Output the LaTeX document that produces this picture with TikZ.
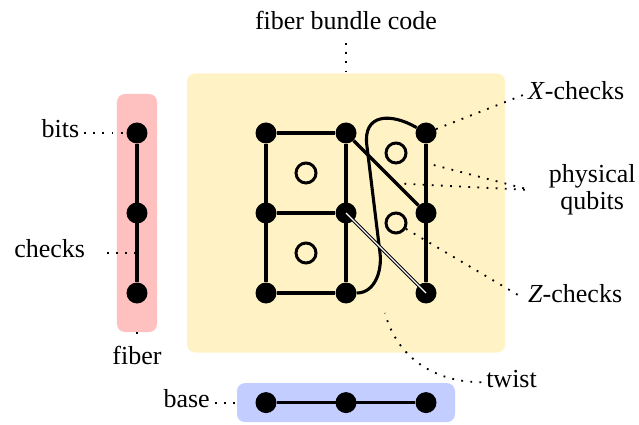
\documentclass[tikz,border=0pt]{standalone}
\usepackage{tikz}
\usepackage{fontspec}
\setmainfont{Liberation Serif}
\newfontfamily\lblserif{Liberation Serif}
\usetikzlibrary{arrows.meta}
\usetikzlibrary{calc}
\usetikzlibrary{positioning}

\definecolor{bundlebg}{RGB}{255,242,196}
\definecolor{fiberbg}{RGB}{255,192,192}
\definecolor{basebg}{RGB}{196,205,255}
\newcommand{\lblfont}{\lblserif\fontsize{18.5}{19}\selectfont}
\tikzset{
  bit/.style={circle,fill,inner sep=0pt,minimum size=0.525cm},
  facecheck/.style={circle,draw,line width=2.1pt,inner sep=0pt,minimum size=0.5cm},
  panel/.style={rectangle,rounded corners=0.2cm,inner sep=0pt},
  link/.style={line width=2.4pt},
  leader/.style={line width=1.3pt,dash pattern=on 1.3pt off 5.2pt},
  lbl/.style={font=\lblfont},
  onel/.style={lbl,text height=13pt,text depth=6pt},
}

\begin{document}
\begin{tikzpicture}[node distance=2cm]
      \useasboundingbox (-6.65,-3.275) rectangle (9.325,7.325);
      % backgrounds
      \node[panel,fill=bundlebg,minimum width=7.95cm,minimum height=6.975cm] (bundle) at (2,2) {};
      \node[panel,fill=fiberbg,minimum width=1cm,minimum height=5.95cm] (fiberbox) at (-3.225,2) {};
      \node[panel,fill=basebg,minimum width=5.45cm,minimum height=0.975cm] (basebox) at (2,-2.74) {};
      % total space
      \node[bit] (l1) at (0,4) {};
      \node[bit,right of=l1] (m1) {};
      \node[bit,right of=m1] (r1) {};
      \node[bit,below of=l1] (l2) {};
      \node[bit,right of=l2] (m2) {};
      \node[bit,right of=m2] (r2) {};
      \node[bit,below of=l2] (l3) {};
      \node[bit,right of=l3] (m3) {};
      \node[bit,right of=m3] (r3) {};
      \node[facecheck] (z1) at (1,3) {};
      \node[facecheck] (z2) at (1,1) {};
      \node[facecheck] (z3) at (3.25,3.5) {};
      \node[facecheck] (z4) at (3.25,1.75) {};
      \draw[link] (l1) -- (m1);
      \draw[link] (l2) -- (m2);
      \draw[link] (l3) -- (m3);
      \draw[link] (l1) -- (l3);
      \draw[link] (m1) -- (m3);
      \draw[link] (r1) -- (r3);
      \draw[link] (m1) -- (r2);
      \draw[line width=2.2pt] (m3) to[out=0,in=-83] (2.85,1.0) -- (2.52,3.7) to[out=97,in=150,looseness=1.5] (r1);
      \draw[line width=0.8pt,double=white,double distance=0.9pt] (m2.center) -- (r3.center);
      % fiber
      \node[bit] (f1) at (-3.225,4) {};
      \node[bit,below of=f1] (f2) {};
      \node[bit,below of=f2] (f3) {};
      \draw[link] (f1) -- (f3);
      % base
      \node[bit] (b1) at (0,-2.74) {};
      \node[bit,right of=b1] (b2) {};
      \node[bit,right of=b2] (b3) {};
      \draw[link] (b1) -- (b3);
      % labels
      \node[onel,above=0.75cm of bundle] (codelbl) {fiber bundle code};
      \node[onel,below=0.22cm of fiberbox] (fiberlbl) {fiber};
      \node[onel,left=1.05cm of f1] (bitslbl) {bits};
      \coordinate (fe) at ($(f2)!0.5!(f3)$);
      \node[onel,left=1.175cm of fe] (checkslbl) {checks};
      \node[onel,left=0.55cm of basebox] (baselbl) {base};
      \node[onel,right=0.65cm of basebox,yshift=0.51cm] (twistlbl) {twist};
      \coordinate (tw) at (2.975,-0.5);
      \node[onel,right=2.16cm of r1,yshift=0.95cm] (xlbl) {\textit{X}-checks};
      \node[lbl,align=center,inner xsep=13pt,right=2.34cm of r2,yshift=0.575cm] (qlbl) {physical\\qubits};
      \node[onel,right=2.89cm of z4,yshift=-1.875cm] (zlbl) {\textit{Z}-checks};
      \path (r1.center) -- (r2.center) coordinate[pos=0.375] (qa);
      \path (m1.center) -- (r2.center) coordinate[pos=0.63] (qb);
      \draw[leader] (codelbl) -- (bundle);
      \draw[leader] (fiberbox) -- (fiberlbl);
      \draw[leader] (bitslbl) -- (f1);
      \draw[leader,shorten <=0.42cm] (checkslbl) -- (fe);
      \draw[leader] (baselbl) -- (basebox);
      \draw[leader] (twistlbl) to[out=180,in=-75] (tw);
      \draw[leader] (r1) -- (xlbl.west);
      \draw[leader,shorten <=0.2cm] (qa) -- (qlbl.west);
      \draw[leader,shorten <=0.2cm] (qb) -- (qlbl.west);
      \draw[leader] (z4) -- (zlbl.west);
    \end{tikzpicture}
\end{document}
